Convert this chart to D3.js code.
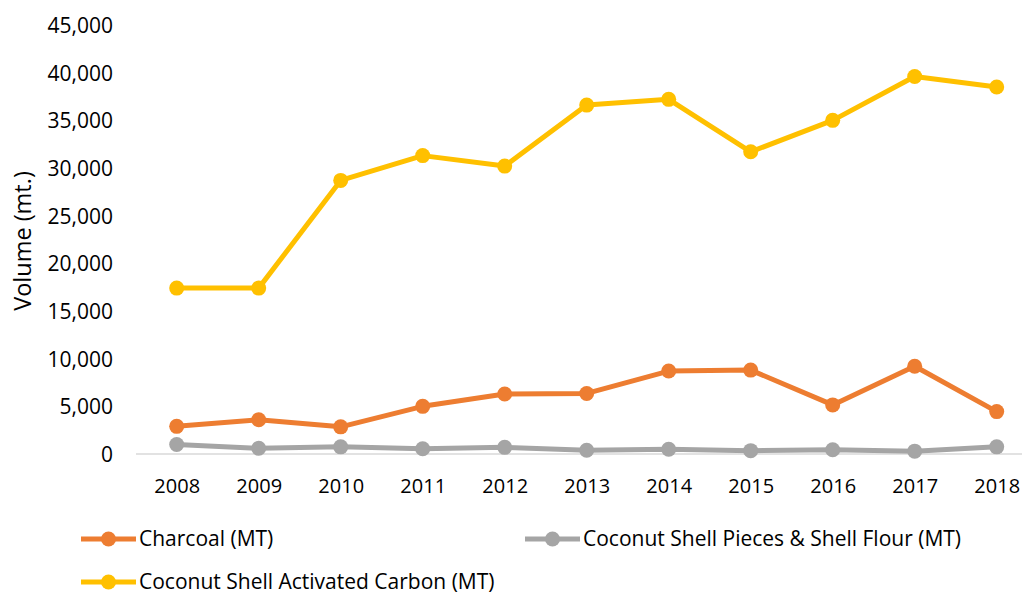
<!DOCTYPE html>
<html>
<head>
<meta charset="utf-8">
<script src="https://cdn.jsdelivr.net/npm/d3@7"></script>
<style>
  html, body { margin: 0; padding: 0; background: #fff; }
  svg text { font-family: "Open Sans", "Noto Sans", sans-serif; fill: #000; }
</style>
</head>
<body>
<svg id="chart" width="1022" height="594"></svg>
<script>
// Export volumes of coconut-shell products, 2008-2018
const years = ["2008", "2009", "2010", "2011", "2012", "2013", "2014", "2015", "2016", "2017", "2018"];
const charcoal = [2900, 3600, 2850, 5000, 6300, 6350, 8700, 8800, 5150, 9200, 4450];
const shellPieces = [1000, 600, 750, 550, 700, 400, 500, 350, 450, 300, 750];
const activatedCarbon = [17400, 17400, 28700, 31300, 30200, 36600, 37200, 31700, 35000, 39600, 38500];
const yTicks = [0, 5000, 10000, 15000, 20000, 25000, 30000, 35000, 40000, 45000];
const seriesNames = ["Charcoal (MT)", "Coconut Shell Pieces & Shell Flour (MT)", "Coconut Shell Activated Carbon (MT)"];
const seriesColors = ["#ED7D31", "#A5A5A5", "#FFC000"];

const series = [
  { name: seriesNames[0], color: seriesColors[0], values: charcoal },
  { name: seriesNames[1], color: seriesColors[1], values: shellPieces },
  { name: seriesNames[2], color: seriesColors[2], values: activatedCarbon }
];

const svg = d3.select("#chart");

const x = d3.scalePoint().domain(years).range([176.7, 996.7]);
const y = d3.scaleLinear().domain([0, 45000]).range([454, 25]);

// Baseline
svg.append("line")
  .attr("x1", 136).attr("x2", 1040)
  .attr("y1", y(0)).attr("y2", y(0))
  .attr("stroke", "#D9D9D9").attr("stroke-width", 1.5);

// Y axis labels
const yAxis = d3.axisLeft(y).tickValues(yTicks).tickFormat(d3.format(",")).tickSize(0).tickPadding(0);
const gy = svg.append("g").attr("transform", "translate(113,0)").call(yAxis);
gy.select(".domain").remove();
gy.selectAll("text").style("font-size", "21px").attr("dy", "0.35em")
  .style("font-family", "'Open Sans', sans-serif");

// X axis labels
const xAxis = d3.axisBottom(x).tickSize(0).tickPadding(0);
const gx = svg.append("g").attr("transform", "translate(0,479)").call(xAxis);
gx.select(".domain").remove();
gx.selectAll("text").style("font-size", "20px").attr("dy", "0.71em")
  .style("font-family", "'Open Sans', sans-serif");

// Y axis title
svg.append("text")
  .attr("transform", "translate(31,241) rotate(-90)")
  .attr("text-anchor", "middle")
  .style("font-size", "23.5px")
  .text("Volume (mt.)");

// Lines and markers
const line = d3.line().x((d, i) => x(years[i])).y(d => y(d));

series.forEach(s => {
  svg.append("path")
    .datum(s.values)
    .attr("d", line)
    .attr("fill", "none")
    .attr("stroke", s.color)
    .attr("stroke-width", 5)
    .attr("stroke-linejoin", "round");
  svg.append("g").selectAll("circle")
    .data(s.values)
    .join("circle")
    .attr("cx", (d, i) => x(years[i]))
    .attr("cy", d => y(d))
    .attr("r", 7.5)
    .attr("fill", s.color);
});

// Legend
const legendPos = [
  { lx: 81, ly: 539 },
  { lx: 525, ly: 539 },
  { lx: 81, ly: 582 }
];
series.forEach((s, i) => {
  const p = legendPos[i];
  const g = svg.append("g").attr("transform", `translate(${p.lx},${p.ly})`);
  g.append("line").attr("x1", 0).attr("x2", 55).attr("y1", 0).attr("y2", 0)
    .attr("stroke", s.color).attr("stroke-width", 5);
  g.append("circle").attr("cx", 27.5).attr("cy", 0).attr("r", 7.5).attr("fill", s.color);
  g.append("text").attr("x", 58).attr("y", 0).attr("dy", "0.35em")
    .style("font-size", "21px")
    .text(s.name);
});
</script>
</body>
</html>
